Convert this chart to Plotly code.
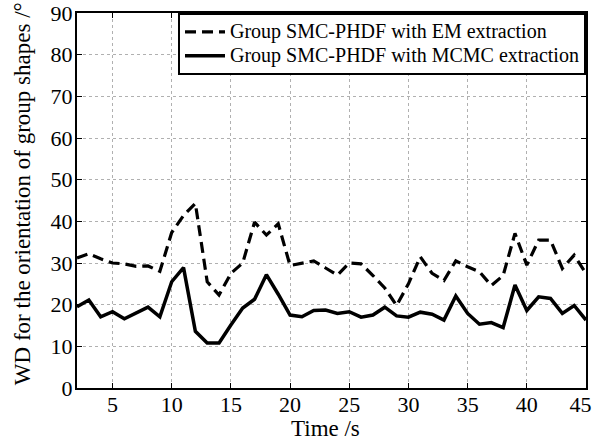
import plotly.graph_objects as go

time_s = list(range(2, 46))
em_wd = [31.2, 32.2, 31.0, 30.0, 29.8, 29.2, 29.3, 28.0, 37.3, 41.4,
         44.3, 25.5, 22.3, 27.5, 30.0, 39.8, 36.7, 39.4, 29.4, 30.0,
         30.5, 28.8, 27.1, 30.0, 29.8, 27.0, 24.0, 19.8, 25.0, 31.5,
         27.5, 25.8, 30.5, 29.1, 27.9, 24.6, 27.0, 37.1, 29.5, 35.5,
         35.5, 28.7, 31.9, 27.5]
mcmc_wd = [19.5, 21.1, 17.1, 18.3, 16.6, 18.0, 19.4, 17.1, 25.5, 28.9,
           13.6, 10.8, 10.8, 15.1, 19.2, 21.3, 27.2, 22.5, 17.5, 17.1,
           18.6, 18.7, 17.9, 18.3, 17.0, 17.5, 19.4, 17.3, 17.0, 18.2,
           17.7, 16.3, 22.1, 17.9, 15.3, 15.7, 14.5, 24.7, 18.6, 21.9,
           21.5, 17.9, 19.8, 16.3]
series_names = ["Group SMC-PHDF with EM extraction", "Group SMC-PHDF with MCMC extraction"]
x_ticks = [5, 10, 15, 20, 25, 30, 35, 40, 45]
x_tick_labels = ["5", "10", "15", "20", "25", "30", "35", "40", "45\u00a0\u00a0"]
y_ticks = [0, 10, 20, 30, 40, 50, 60, 70, 80, 90]
x_title = "Time /s"
y_title = "WD for the orientation of group shapes /°"

font_family = "Liberation Serif, Times New Roman, serif"


def legend_label(s):
    return '<span style="font-size:20px">' + s + '</span>'


fig = go.Figure()
fig.add_trace(go.Scatter(x=time_s, y=em_wd, mode="lines",
                         name=legend_label(series_names[0]),
                         line=dict(color="black", width=3.2, dash="11px,6px")))
fig.add_trace(go.Scatter(x=time_s, y=mcmc_wd, mode="lines",
                         name=legend_label(series_names[1]),
                         line=dict(color="black", width=3.5)))

axis_common = dict(showline=True, linecolor="black", linewidth=2, mirror="allticks",
                   ticks="inside", ticklen=5, tickcolor="black", tickwidth=1,
                   showgrid=True, gridcolor="#b0b0b0", griddash="dot", gridwidth=1,
                   zeroline=False, ticklabeloverflow="allow", automargin=False,
                   tickfont=dict(family=font_family, size=22, color="black"))

fig.update_xaxes(range=[2, 45], tickvals=x_ticks, ticktext=x_tick_labels,
                 ticklabelstandoff=-4, **axis_common)
fig.update_yaxes(range=[0, 90], tickvals=y_ticks, ticktext=[str(v) for v in y_ticks],
                 ticklabelstandoff=-2, **axis_common)

title_font = dict(family=font_family, size=23, color="black")
fig.add_annotation(text=x_title, xref="paper", yref="paper", x=0.489, y=0,
                   xanchor="center", yanchor="top", yshift=-26, showarrow=False,
                   font=title_font)
fig.add_annotation(text=y_title, xref="paper", yref="paper", x=0, y=0.517,
                   xanchor="center", yanchor="middle", xshift=-55, textangle=-90,
                   showarrow=False, font=title_font)

fig.update_layout(
    width=594, height=441,
    margin=dict(l=77, r=8, t=13, b=53, autoexpand=False),
    plot_bgcolor="white", paper_bgcolor="white",
    legend=dict(x=1, y=1, xanchor="right", yanchor="top",
                bgcolor="white", bordercolor="black", borderwidth=2,
                font=dict(family=font_family, size=16, color="black"),
                tracegroupgap=0, itemwidth=40),
    showlegend=True,
)

fig.write_html("out.html")
